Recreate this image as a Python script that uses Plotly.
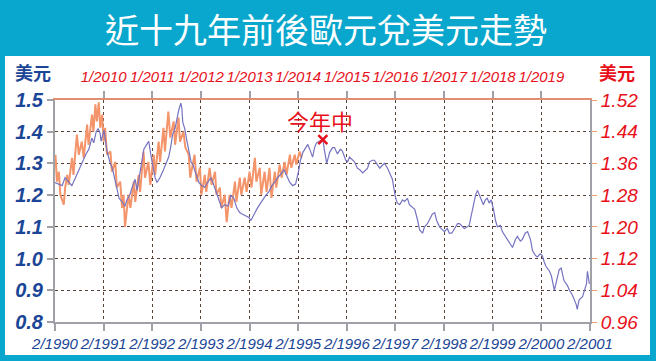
import plotly.graph_objects as go

# ---- data ----
blue_t = [1990.08,1990.23,1990.29,1990.43,1990.49,1990.58,1990.64,1990.72,1990.78,1990.84,1990.88,1990.93,1990.97,
          1991.01,1991.03,1991.07,1991.09,1991.15,1991.21,1991.27,1991.31,1991.36,1991.40,1991.46,1991.52,1991.56,
          1991.62,1991.68,1991.73,1991.77,1991.83,1991.87,1991.91,1991.97,1992.01,1992.05,1992.10,1992.14,1992.18,
          1992.24,1992.30,1992.36,1992.42,1992.46,1992.50,1992.55,1992.59,1992.63,1992.67,1992.69,1992.71,1992.75,
          1992.79,1992.83,1992.88,1992.92,1992.98,1993.04,1993.10,1993.16,1993.22,1993.29,1993.33,1993.39,1993.45,
          1993.51,1993.57,1993.64,1993.70,1993.76,1993.82,1993.88,1993.94,1994.00,1994.07,1994.11,1994.17,1994.23,
          1994.29,1994.35,1994.42,1994.48,1994.54,1994.60,1994.66,1994.72,1994.79,1994.85,1994.91,1994.97,1995.03,
          1995.09,1995.13,1995.18,1995.24,1995.28,1995.32,1995.38,1995.42,1995.46,1995.52,1995.59,1995.63,1995.67,
          1995.73,1995.79,1995.83,1995.89,1995.95,1995.99,1996.06,1996.10,1996.14,1996.20,1996.24,1996.30,1996.35,
          1996.41,1996.45,1996.51,1996.55,1996.61,1996.65,1996.71,1996.76,1996.82,1996.86,1996.92,1996.96,1997.02,
          1997.08,1997.12,1997.17,1997.23,1997.27,1997.33,1997.37,1997.43,1997.48,1997.54,1997.58,1997.64,1997.68,
          1997.74,1997.80,1997.84,1997.89,1997.93,1997.99,1998.05,1998.09,1998.15,1998.19,1998.24,1998.30,1998.36,
          1998.40,1998.46,1998.50,1998.56,1998.60,1998.64,1998.68,1998.73,1998.77,1998.81,1998.85,1998.89,1998.93,
          1998.97,1999.01,1999.05,1999.10,1999.14,1999.18,1999.24,1999.28,1999.34,1999.38,1999.44,1999.49,1999.55,
          1999.59,1999.65,1999.69,1999.75,1999.80,1999.86,1999.90,1999.96,2000.00,2000.06,2000.10,2000.14,2000.18,
          2000.25,2000.29,2000.35,2000.39,2000.45,2000.49,2000.55,2000.62,2000.66,2000.72,2000.76,2000.80,2000.82,
          2000.86,2000.93,2000.97,2001.01,2001.03,2001.07]
blue_v = [1.24,1.23,1.255,1.23,1.25,1.28,1.305,1.33,1.345,1.38,1.365,1.40,1.41,
          1.395,1.37,1.40,1.405,1.34,1.305,1.28,1.255,1.215,1.19,1.18,1.165,1.185,
          1.20,1.23,1.25,1.215,1.275,1.31,1.345,1.36,1.37,1.33,1.285,1.255,1.24,
          1.255,1.275,1.295,1.32,1.35,1.39,1.41,1.445,1.47,1.49,1.475,1.43,1.41,
          1.375,1.345,1.305,1.295,1.265,1.24,1.23,1.225,1.24,1.255,1.24,1.215,1.19,
          1.16,1.17,1.165,1.20,1.19,1.16,1.145,1.14,1.135,1.13,1.12,1.14,1.155,
          1.17,1.185,1.20,1.21,1.23,1.24,1.255,1.265,1.28,1.26,1.24,1.23,1.235,
          1.275,1.31,1.335,1.35,1.36,1.345,1.32,1.35,1.365,1.37,1.375,1.335,1.30,
          1.335,1.35,1.35,1.33,1.345,1.34,1.31,1.305,1.32,1.31,1.305,1.285,1.28,
          1.27,1.275,1.285,1.305,1.31,1.31,1.295,1.285,1.295,1.30,1.285,1.27,1.25,
          1.195,1.175,1.17,1.185,1.18,1.19,1.17,1.16,1.155,1.12,1.09,1.08,1.10,
          1.11,1.13,1.14,1.145,1.12,1.10,1.09,1.085,1.095,1.08,1.08,1.095,1.11,
          1.11,1.10,1.095,1.10,1.105,1.135,1.17,1.20,1.215,1.20,1.185,1.17,1.185,
          1.19,1.175,1.185,1.155,1.12,1.10,1.105,1.085,1.07,1.06,1.045,1.035,1.06,
          1.07,1.055,1.06,1.08,1.085,1.06,1.025,1.01,1.005,1.015,1.01,0.99,0.975,
          0.96,0.945,0.90,0.925,0.965,0.97,0.93,0.915,0.90,0.885,0.87,0.855,0.84,
          0.87,0.88,0.90,0.92,0.96,0.92]

orange_t = [2009.01,2009.04,2009.08,2009.11,2009.18,2009.21,2009.25,2009.28,2009.35,2009.38,2009.45,2009.49,
            2009.55,2009.59,2009.66,2009.69,2009.76,2009.79,2009.83,2009.86,2009.90,2009.93,2009.97,2010.00,
            2010.03,2010.07,2010.14,2010.17,2010.24,2010.27,2010.34,2010.38,2010.41,2010.44,2010.51,2010.55,
            2010.62,2010.65,2010.72,2010.75,2010.82,2010.85,2010.92,2010.96,2011.03,2011.06,2011.13,2011.16,
            2011.23,2011.26,2011.33,2011.37,2011.44,2011.47,2011.54,2011.57,2011.64,2011.68,2011.75,2011.78,
            2011.87,2011.91,2011.98,2012.01,2012.08,2012.11,2012.18,2012.22,2012.29,2012.32,2012.39,2012.42,
            2012.49,2012.53,2012.59,2012.63,2012.70,2012.73,2012.80,2012.83,2012.90,2012.94,2013.00,2013.04,
            2013.11,2013.14,2013.21,2013.24,2013.31,2013.35,2013.41,2013.45,2013.52,2013.55,2013.62,2013.66,
            2013.72,2013.76,2013.83,2013.86,2013.93,2013.96,2014.03,2014.07]
orange_v = [1.382,1.314,1.339,1.281,1.256,1.299,1.331,1.306,1.374,1.331,1.433,1.382,
            1.415,1.374,1.458,1.407,1.483,1.440,1.509,1.466,1.514,1.450,1.483,1.415,
            1.450,1.382,1.390,1.339,1.364,1.299,1.314,1.248,1.281,1.200,1.281,1.248,
            1.314,1.263,1.331,1.288,1.390,1.324,1.364,1.306,1.382,1.331,1.415,1.364,
            1.450,1.390,1.491,1.425,1.466,1.407,1.476,1.415,1.440,1.400,1.382,1.324,
            1.382,1.314,1.349,1.281,1.331,1.288,1.349,1.306,1.339,1.281,1.299,1.248,
            1.281,1.212,1.281,1.248,1.314,1.263,1.324,1.281,1.324,1.288,1.339,1.299,
            1.374,1.314,1.349,1.281,1.339,1.288,1.349,1.273,1.339,1.299,1.357,1.324,
            1.364,1.331,1.382,1.349,1.382,1.357,1.390,1.374]

mark_t = [1995.59]
mark_v = [1.375]

bottom_ticks = [1990.083 + k for k in range(12)]
bottom_labels = ["2/%d" % (1990 + k) for k in range(12)]
top_ticks = [2010 + k for k in range(10)]
top_labels = ["1/%d" % (2010 + k) for k in range(10)]
left_ticks = [0.8, 0.9, 1.0, 1.1, 1.2, 1.3, 1.4, 1.5]
right_ticks = [0.96, 1.04, 1.12, 1.20, 1.28, 1.36, 1.44, 1.52]

# ---- styles ----
BG = "#09a7cd"
NAVY = "#1b4596"
RED = "#e8101a"
GRID = "#5a4438"
AXIS = "#a0a0a8"
SANS = "Liberation Sans, Arial, sans-serif"

fig = go.Figure()
fig.add_trace(go.Scatter(x=orange_t, y=orange_v, xaxis="x", yaxis="y", mode="lines",
                         line=dict(color="#f4946a", width=2), hoverinfo="skip"))
fig.add_trace(go.Scatter(x=blue_t, y=blue_v, xaxis="x2", yaxis="y2", mode="lines",
                         line=dict(color="#7673c0", width=1.2), hoverinfo="skip"))
fig.add_trace(go.Scatter(x=mark_t, y=mark_v, xaxis="x2", yaxis="y2", mode="markers",
                         marker=dict(symbol="x-thin", size=9, line=dict(color=RED, width=2.5)),
                         hoverinfo="skip"))

L, R, T, B = 55, 66, 100, 39
W, H = 656, 361
pw, ph = W - L - R, H - T - B

def px(xp):
    return (xp - L) / pw

def py(yp):
    return (H - B - yp) / ph

fig.update_layout(
    width=W, height=H,
    margin=dict(l=L, r=R, t=T, b=B, autoexpand=False),
    paper_bgcolor=BG, plot_bgcolor="white",
    showlegend=False,
    xaxis=dict(side="top", range=[2009.0, 2020.0], tickmode="array", tickvals=top_ticks, ticktext=top_labels,
               showgrid=False, zeroline=False, ticks="outside", ticklen=7, tickcolor=AXIS, tickwidth=2,
               showline=True, linecolor="#e09070", linewidth=2, tickangle=0, automargin=False,
               ticklabelstandoff=3,
               tickfont=dict(family=SANS, size=15, color=RED, style="italic")),
    yaxis=dict(side="right", range=[0.96, 1.52], tickmode="array", tickvals=right_ticks,
               tickformat=".2f", showgrid=False, zeroline=False, ticks="outside", ticklen=5,
               tickcolor="#f0a070", showline=True, linecolor=AXIS, linewidth=2, automargin=False,
               tickfont=dict(family=SANS, size=19, color=RED, style="italic")),
    xaxis2=dict(overlaying="x", anchor="y2", side="bottom", range=[1990.083, 2001.083], tickmode="array",
                tickvals=bottom_ticks, ticktext=bottom_labels, showgrid=True, gridcolor=GRID, griddash="dot",
                gridwidth=1, zeroline=False, ticks="outside", ticklen=7, tickcolor=AXIS, tickwidth=2,
                showline=True, linecolor=AXIS, linewidth=2, tickangle=0, automargin=False,
                tickfont=dict(family=SANS, size=15, color=NAVY, style="italic")),
    yaxis2=dict(overlaying="y", anchor="x2", side="left", range=[0.8, 1.5], tickmode="array",
                tickvals=left_ticks, tickformat=".1f", showgrid=True, gridcolor=GRID, griddash="dot",
                gridwidth=1, zeroline=False, ticks="outside", ticklen=6, tickcolor=AXIS, tickwidth=2,
                showline=True, linecolor=AXIS, linewidth=2, automargin=False,
                tickfont=dict(family=SANS, size=20, color=NAVY, style="italic", weight="bold")),
    shapes=[dict(type="rect", xref="paper", yref="paper", x0=px(5), x1=px(650), y0=py(355), y1=py(56),
                 fillcolor="white", line=dict(width=0), layer="below")],
    annotations=[
        dict(text="近十九年前後歐元兌美元走勢", xref="paper", yref="paper", x=px(326), y=py(28),
             xanchor="center", yanchor="middle", showarrow=False,
             font=dict(family="Noto Sans CJK TC", size=34, color="white")),
        dict(text="美元", xref="paper", yref="paper", x=px(33), y=py(72), xanchor="center", yanchor="middle",
             showarrow=False, font=dict(family="Noto Sans CJK TC", size=18, color=NAVY, weight="bold")),
        dict(text="美元", xref="paper", yref="paper", x=px(617), y=py(72), xanchor="center", yanchor="middle",
             showarrow=False, font=dict(family="Noto Sans CJK TC", size=18, color=RED, weight="bold")),
        dict(text="今年中", xref="paper", yref="paper", x=px(320), y=py(120), xanchor="center",
             yanchor="middle", showarrow=False,
             font=dict(family="Noto Sans CJK TC", size=22, color=RED)),
    ],
)

fig.write_html("out.html", config={"displayModeBar": False},
               post_script="document.body.style.margin='0';")
